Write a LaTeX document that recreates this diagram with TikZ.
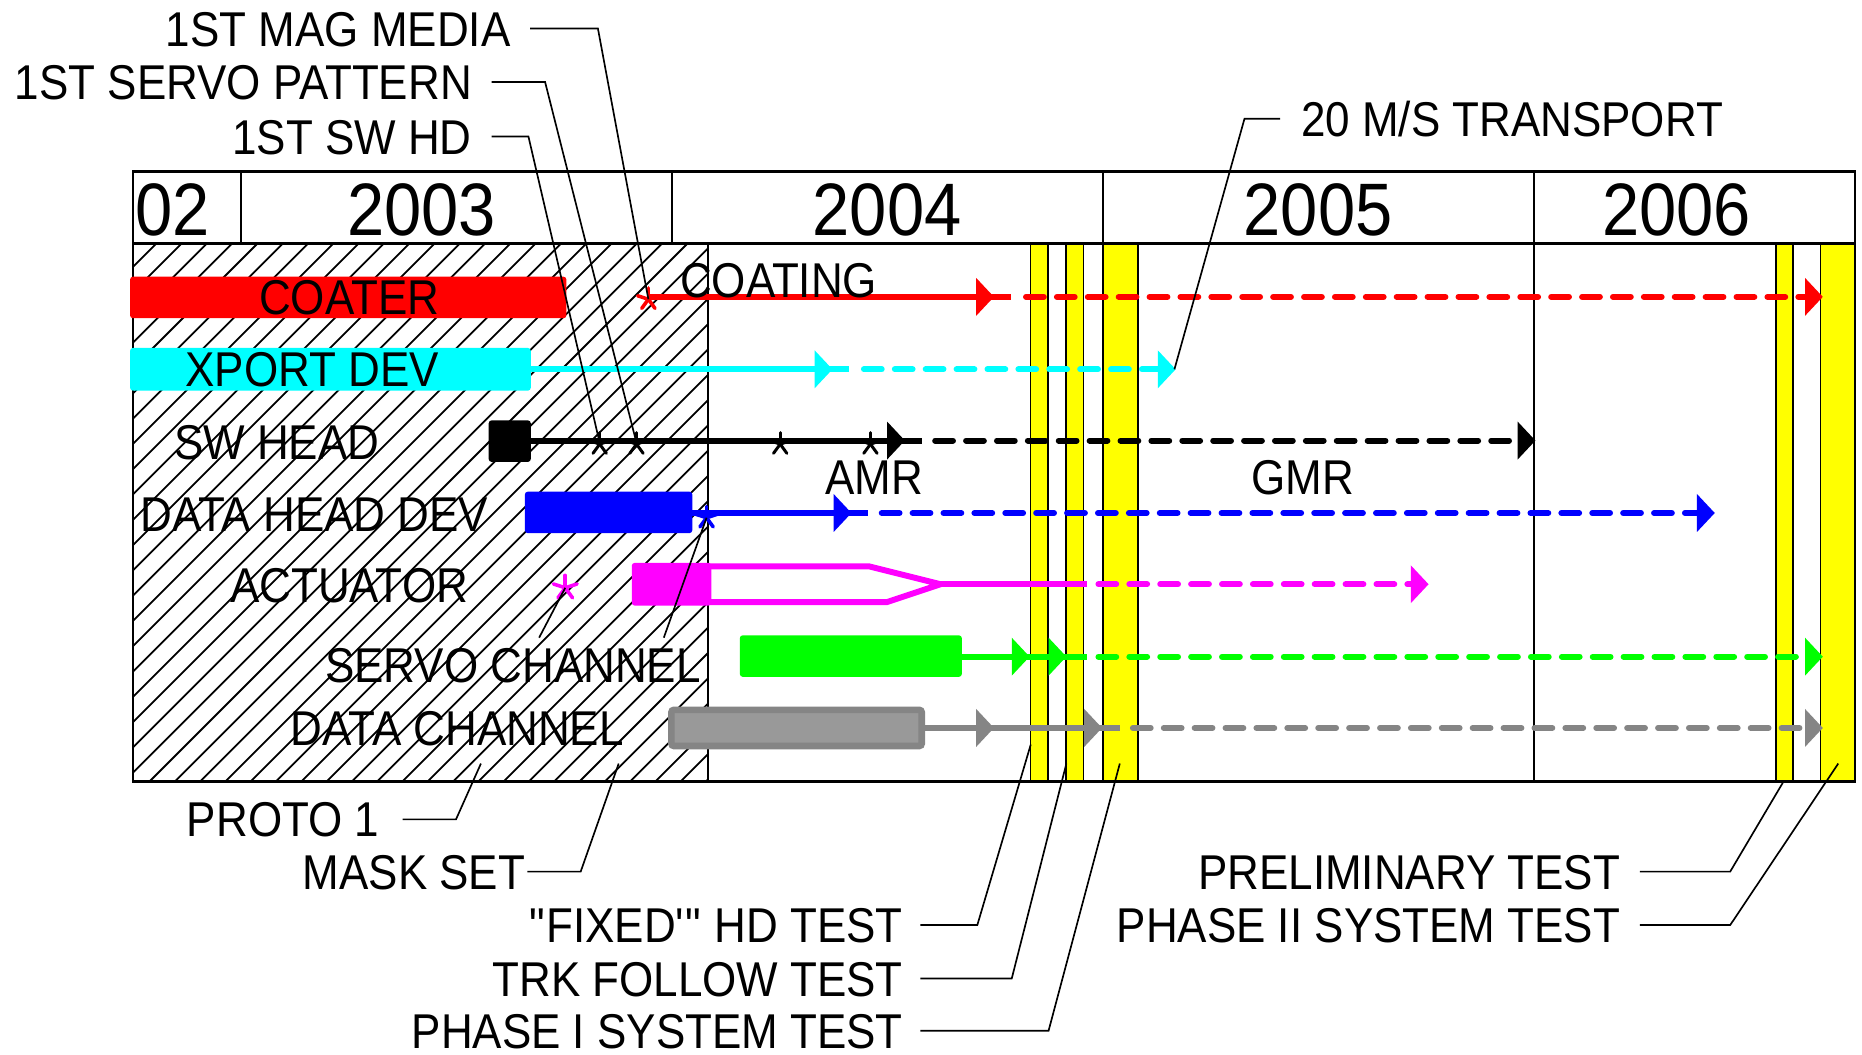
\documentclass[tikz,border=0pt]{standalone}
\usepackage{fontspec}
\setmainfont[FakeStretch=0.9]{Liberation Sans}
\newcommand\LabFont{\fontsize{11.7}{14}\selectfont}
\newcommand\YrFont{\fontsize{17.8}{20}\selectfont}
\definecolor{cRed}{HTML}{FF0000}
\definecolor{cCyan}{HTML}{00FFFF}
\definecolor{cBlue}{HTML}{0000FF}
\definecolor{cMag}{HTML}{FF00FF}
\definecolor{cGreen}{HTML}{00FF00}
\definecolor{cYel}{HTML}{FFFF00}
\definecolor{cGrayLine}{HTML}{858585}
\definecolor{cGrayFill}{HTML}{999999}
\newcommand\AHead[3]{\fill[#1] (#2,#3) -- ++(-15,-16) -- ++(0,32) -- cycle;}
\newcommand\AstMark[5]{\foreach \ang in {-90,-18,-162,54,126} \draw[#1,line width=#5,line cap=round] (#2,#3) -- ++(\ang:#4);}
\begin{document}
\begin{tikzpicture}[x=0.01cm,y=-0.01cm,
  frame/.style={line width=0.22mm},
  gridline/.style={line width=0.16mm},
  hatchline/.style={line width=0.15mm},
  callout/.style={line width=0.14mm},
  milestone/.style={fill=cYel,draw=black,line width=0.14mm},
  lab/.style={inner sep=0pt,font=\LabFont,text height=8.4pt,text depth=0pt},
  yr/.style={inner sep=0pt,font=\YrFont,text height=12.7pt,text depth=0pt},
  prog/.style={line width=0.5mm},
  plan/.style={line width=0.5mm,line cap=round,dash pattern=on 1.5mm off 1.1mm},
  barbox/.style={rounded corners=0.25mm}]
\useasboundingbox (0,0) rectangle (1568,888);
\fill[white] (0,0) rectangle (1568,888);

% hatched area
\begin{scope}
\clip (112,205) rectangle (596,658);
\foreach \i in {0,...,46}{\pgfmathsetmacro\hx{-342.6+\i*21.3}\draw[hatchline] (\hx,658) -- ++(470,-470);}
\end{scope}

% milestone bars
\foreach \xa/\xb in {867.7/882.4, 897.7/912.3, 928.9/958.3, 1495.6/1510, 1533/1562}
  \filldraw[milestone] (\xa,205) rectangle (\xb,658);

% grid
\draw[gridline] (596,205) -- (596,658);
\draw[gridline] (928.9,144.5) -- (928.9,658);
\draw[gridline] (1291.5,144.5) -- (1291.5,658);
\draw[gridline] (203,144.5) -- (203,205);
\draw[gridline] (566,144.5) -- (566,205);
\draw[frame] (112,144.5) rectangle (1562,658);
\draw[frame] (112,205) -- (1562,205);

% years
\node[yr,anchor=west] (y02) at (113,176) {02};
\node[yr] (y03) at (355,176) {2003};
\node[yr] (y04) at (747,176) {2004};
\node[yr] (y05) at (1110,176) {2005};
\node[yr] (y06) at (1412,176) {2006};

% marker coordinates
\coordinate (astMag) at (546,252);
\coordinate (astBlue) at (595,436);
\coordinate (astAct) at (476,495);
\coordinate (mk1) at (505,373);
\coordinate (mk2) at (536,373);

% ---- COATER row (y=250)
\fill[cRed,barbox] (109.5,233) rectangle (477,268);
\draw[prog,cRed] (546,250) -- (851,250);
\AHead{cRed}{837}{250}
\draw[plan,cRed] (864,250) -- (1527,250);
\AHead{cRed}{1535}{250}
\AstMark{cRed}{546}{252}{9.5}{0.3mm}

% ---- XPORT row (y=311)
\fill[cCyan,barbox] (109.5,293) rectangle (447,329);
\draw[prog,cCyan] (447,311) -- (715,311);
\AHead{cCyan}{701}{311}
\draw[plan,cCyan] (727.5,311) -- (982,311);
\AHead{cCyan}{990}{311}

% ---- SW HEAD row (y=371)
\fill[black,barbox] (411.5,354) rectangle (447,389);
\draw[prog,black] (447,371) -- (776,371);
\AHead{black}{762}{371}
\draw[plan,black] (787.5,371) -- (1285,371);
\AHead{black}{1293}{371}
\foreach \m in {505,536,657,733} {\AstMark{black}{\m}{374}{9.6}{0.25mm}}

% ---- DATA HEAD DEV row (y=432)
\fill[cBlue,barbox] (442,414) rectangle (583,449);
\draw[prog,cBlue] (583,432) -- (731,432);
\AHead{cBlue}{717}{432}
\draw[plan,cBlue] (742.5,432) -- (1436,432);
\AHead{cBlue}{1444}{432}
\AstMark{cBlue}{595}{436}{9.5}{0.3mm}

% ---- ACTUATOR row (y=492)
\fill[cMag,barbox] (532,474) rectangle (599,510);
\draw[prog,cMag,line join=miter] (597,477) -- (732,477) -- (792,492) -- (747,507) -- (597,507);
\draw[prog,cMag] (792,492) -- (915,492);
\draw[plan,cMag] (925,492) -- (1195,492);
\AHead{cMag}{1203}{492}
\AstMark{cMag}{476}{495}{10.5}{0.3mm}

% ---- SERVO CHANNEL row (y=553)
\fill[cGreen,barbox] (623,535) rectangle (810,570);
\draw[prog,cGreen] (810,553) -- (915,553);
\AHead{cGreen}{867}{553}
\AHead{cGreen}{898}{553}
\draw[plan,cGreen] (925,553) -- (1527,553);
\AHead{cGreen}{1535}{553}

% ---- DATA CHANNEL row (y=613)
\filldraw[fill=cGrayFill,draw=cGrayLine,line width=0.55mm,rounded corners=0.2mm] (565.4,597.8) rectangle (776.2,628.2);
\draw[prog,cGrayLine] (779,613) -- (943,613);
\AHead{cGrayLine}{837}{613}
\AHead{cGrayLine}{928}{613}
\draw[plan,cGrayLine] (954,613) -- (1527,613);
\AHead{cGrayLine}{1535}{613}

% ---- row labels
\node[lab] (lCoater) at (294,250) {COATER};
\node[lab] (lXport) at (263,311) {XPORT DEV};
\node[lab] (lSwHead) at (233,372) {SW HEAD};
\node[lab] (lDataHead) at (264.6,433) {DATA HEAD DEV};
\node[lab] (lAct) at (294,493) {ACTUATOR};
\node[lab] (lServo) at (432,560) {SERVO CHANNEL};
\node[lab] (lDataCh) at (385,613) {DATA CHANNEL};
\node[lab] (lAmr) at (736,402) {AMR};
\node[lab] (lGmr) at (1097,402) {GMR};
\node[lab,anchor=west] (lCoating) at (572,236) {COATING};

% ---- callout labels
\node[lab,anchor=east] (cMagMedia) at (430.5,24) {1ST MAG MEDIA};
\node[lab,anchor=east] (cServoPat) at (398,69) {1ST SERVO PATTERN};
\node[lab,anchor=east] (cSwHd) at (398,115) {1ST SW HD};
\node[lab,anchor=west] (cTransport) at (1095,100) {20 M/S TRANSPORT};
\node[lab,anchor=east] (cProto) at (320,690) {PROTO 1};
\node[lab,anchor=east] (cMask) at (443,734) {MASK SET};
\node[lab,anchor=east] (cFixed) at (761,779) {\textquotedbl FIXED\textquotesingle\textquotedbl\ HD TEST};
\node[lab,anchor=east] (cTrk) at (761,824) {TRK FOLLOW TEST};
\node[lab,anchor=east] (cPhase1) at (761,868) {PHASE I SYSTEM TEST};
\node[lab,anchor=east] (cPrelim) at (1365,734) {PRELIMINARY TEST};
\node[lab,anchor=east] (cPhase2) at (1365,779) {PHASE II SYSTEM TEST};

\coordinate (tTransport) at (989,311);
\coordinate (tProto) at (405,643);
\coordinate (tMask) at (521,643);
\coordinate (tFixed) at (868,627);
\coordinate (tTrk) at (898,643);
\coordinate (tPhase1) at (943,643);
\coordinate (tPrelim) at (1502,658);
\coordinate (tPhase2) at (1548,643);
\coordinate (sA) at (454,537);
\coordinate (sB) at (559,537);

% ---- callout lines
\draw[callout] ([xshift=1.6mm]cMagMedia.east) -- ++(57,0) -- (astMag);
\draw[callout] ([xshift=1.6mm]cServoPat.east) -- ++(45,0) -- (mk2);
\draw[callout] ([xshift=1.6mm]cSwHd.east) -- ++(31,0) -- (mk1);
\draw[callout] ([xshift=-1.7mm]cTransport.west) -- ++(-30,0) -- (tTransport);
\draw[callout] ([xshift=1.9mm]cProto.east) -- ++(45,0) -- (tProto);
\draw[callout] ([xshift=0.1mm]cMask.east) -- ++(45,0) -- (tMask);
\draw[callout] ([xshift=1.4mm]cFixed.east) -- ++(48,0) -- (tFixed);
\draw[callout] ([xshift=1.4mm]cTrk.east) -- ++(77,0) -- (tTrk);
\draw[callout] ([xshift=1.4mm]cPhase1.east) -- ++(108,0) -- (tPhase1);
\draw[callout] ([xshift=1.6mm]cPrelim.east) -- ++(76,0) -- (tPrelim);
\draw[callout] ([xshift=1.6mm]cPhase2.east) -- ++(76,0) -- (tPhase2);
\draw[callout] (sA) -- (astAct);
\draw[callout] (sB) -- (astBlue);
\end{tikzpicture}
\end{document}
